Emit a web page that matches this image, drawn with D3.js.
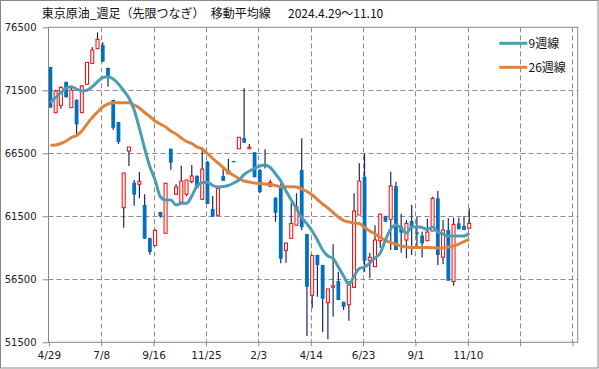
<!DOCTYPE html>
<html><head><meta charset="utf-8">
<script src="https://cdn.jsdelivr.net/npm/d3@7"></script>
<style>body{margin:0;background:#fff}svg{display:block}</style>
</head><body><svg id="c" width="599" height="369"></svg>
<script>
// ---- data ----
const tickLabels = ["4/29","7/8","9/16","11/25","2/3","4/14","6/23","9/1","11/10"];
const yTicks = [51500,56500,61500,66500,71500,76500];
const open  = [73350,69720,70310,72160,70120,70730,69720,71980,73640,74800,
               75100,73270,70730,68980,62180,66680,64170,64040,62400,59780,
               59170,61840,60150,66860,63250,62630,63250,64250,64700,62850,
               65830,62080,61580,64700,64880,65890,66860,67710,66860,66580,
               65170,65650,63900,62980,63850,58800,59750,60790,65170,60090,
               55230,58430,57630,54640,55870,56360,54720,54480,55860,61600,
               64640,57980,57500,59560,61520,61260,63900,60700,59620,61130,
               60230,59970,59560,60330,62930,58250,60410,56310,60940,60730,
               60550];
const high  = [73350,71550,71800,72200,71800,70800,71900,73720,74910,76100,
               75310,73300,70750,69000,64940,67000,64380,65020,63250,59800,
               60450,61860,64120,66880,64040,65520,64400,65570,64750,66980,
               65900,63110,63720,65490,66070,65890,67770,71660,67240,66600,
               65250,66820,64400,63000,64100,59380,62580,63330,67690,60100,
               58400,58450,57650,55730,59280,57100,54720,56310,63330,65710,
               66500,58600,60790,61700,61550,65040,64250,61700,61200,62400,
               61470,60300,61310,63060,63510,61210,61340,61390,61390,61520,
               62130];
const low   = [70120,69700,70040,70940,70100,67950,69700,71950,73600,74780,
               73750,71790,68350,67240,60590,65490,62340,62930,59700,58450,
               59150,61390,60150,65200,63200,62600,63100,64120,63700,62800,
               62480,61470,61580,64320,64880,65790,66860,67340,66860,64600,
               63320,65300,63800,61070,57770,57820,59750,60790,60410,52000,
               54200,55120,52320,51740,53530,54860,54060,53210,55860,61600,
               57100,56580,57500,59000,61070,58830,58830,58600,58170,58430,
               59100,58250,59560,60330,57630,57700,56390,55990,60470,60410,
               60550];
const close = [70120,71440,71740,70940,71520,68800,71840,73720,74700,75550,
               73770,72580,68530,67400,64940,67000,63210,64280,59720,58670,
               60390,61500,64120,65750,63830,64300,64380,64700,63770,65250,
               62480,61470,63720,64320,65100,65790,67770,67340,66980,64600,
               63430,65450,64200,61780,58130,59380,60940,62260,60630,55910,
               58400,57630,54960,55730,55990,54860,54320,56310,61920,64300,
               57980,58250,59620,61680,61070,63900,58830,60200,60940,60600,
               60070,59360,60250,62930,58430,60410,56390,60860,60470,60410,
               60940];
const ma9   = [70516,70913,71309,71658,71785,71600,71444,71500,71785,72183,
               72500,72579,72397,72000,71468,70888,69936,68484,66896,65436,
               64380,63055,62793,62793,62396,62531,62531,63110,63904,64158,
               64198,63944,63824,63864,63944,64142,64380,64817,65095,65293,
               65491,65571,65373,64856,64300,63500,62800,62100,61400,60900,
               60333,59618,58825,58348,58150,57475,56761,56086,56761,57356,
               57475,57793,58190,58586,59618,60491,60809,60570,60173,60650,
               60674,60610,60452,60650,60253,60094,59935,59935,59935,59935,
               60173];
const ma26  = [67134,67158,67277,67476,67753,67912,68270,68825,69341,69777,
               70174,70412,70516,70516,70516,70516,70333,70095,69738,69420,
               69063,68825,68587,68270,68031,67714,67436,67277,67000,66841,
               66484,66087,65730,65373,65015,64738,64500,64301,64222,64142,
               64102,64063,64023,63944,63851,63851,63851,63825,63666,63467,
               63190,62833,62475,62158,61801,61443,61166,61047,60968,60928,
               60610,60332,60094,59816,59578,59419,59260,59142,59062,59023,
               59023,59023,59023,59007,58983,58983,59062,59142,59300,59499,
               59657];
const seriesNames = ["9週線","26週線"];

// ---- layout ----
const svg = d3.select("#c");
const L = 48.5, R = 577.7, T = 27.3, B = 342.3;
const x = d3.scaleLinear().domain([0, 101]).range([48.9, R]);
const y = d3.scaleLinear().domain([51500, 76500]).range([B, T]);
const off = 1.5;
const cx = i => x(i) + off;
const gridCol = "#8c8c8c", axisCol = "#868686";
const teal = "#4a9db5", orange = "#e0833a";

svg.append("rect").attr("x",0.5).attr("y",0.5).attr("width",597.5).attr("height",367.5)
  .attr("fill","#fff").attr("stroke",axisCol).attr("stroke-width",1);

// grid
const xt = d3.range(0, 101, 10);
svg.append("g").selectAll("line").data(xt.filter(d=>d>0)).join("line")
  .attr("x1",d=>Math.round(x(d))+0.5).attr("x2",d=>Math.round(x(d))+0.5)
  .attr("y1",T).attr("y2",B)
  .attr("stroke",gridCol).attr("stroke-width",1).attr("stroke-dasharray","5,3");
svg.append("g").selectAll("line").data(yTicks.slice(1,-1)).join("line")
  .attr("x1",L).attr("x2",R)
  .attr("y1",d=>Math.round(y(d))+0.5).attr("y2",d=>Math.round(y(d))+0.5)
  .attr("stroke",gridCol).attr("stroke-width",1).attr("stroke-dasharray","5,3");

// candles
const idx = d3.range(open.length);
svg.append("g").selectAll("line").data(idx).join("line")
  .attr("x1",i=>cx(i)).attr("x2",i=>cx(i))
  .attr("y1",i=>y(high[i])).attr("y2",i=>y(low[i]))
  .attr("stroke","#1b2a5e").attr("stroke-width",1.2);
svg.append("g").selectAll("rect").data(idx).join("rect")
  .attr("x",i=> close[i]>=open[i] ? cx(i)-1.5 : cx(i)-1.9)
  .attr("width",i=> close[i]>=open[i] ? 3 : 3.8)
  .attr("y",i=>y(Math.max(open[i],close[i])))
  .attr("height",i=>Math.max(1, Math.abs(y(open[i])-y(close[i]))))
  .attr("fill",i=> close[i]>=open[i] ? "#fff" : "#0070c0")
  .attr("stroke",i=> close[i]>=open[i] ? "#ff0000" : "none")
  .attr("stroke-width",1);

// moving averages
const line = d3.line().x((d,i)=>cx(i)).y(d=>y(d)).curve(d3.curveMonotoneX);
svg.append("path").datum(ma26).attr("d",line).attr("fill","none")
  .attr("stroke",orange).attr("stroke-width",3).attr("stroke-linejoin","round");
svg.append("path").datum(ma9).attr("d",line).attr("fill","none")
  .attr("stroke",teal).attr("stroke-width",3).attr("stroke-linejoin","round");

// plot border
svg.append("rect").attr("x",L).attr("y",T).attr("width",R-L).attr("height",B-T)
  .attr("fill","none").attr("stroke",axisCol).attr("stroke-width",1);

// y axis
const yAxis = d3.axisLeft(y).tickValues(yTicks).tickSize(6).tickPadding(6).tickFormat(d3.format("d"));
const gy = svg.append("g").attr("transform",`translate(${L},0)`).call(yAxis);
gy.select(".domain").remove();
gy.selectAll("line").attr("stroke",axisCol);
gy.selectAll("text").attr("font-family","DejaVu Sans").attr("font-size","10px").attr("fill","#222");

// x axis
const xAxis = d3.axisBottom(x).tickValues(xt).tickSize(4).tickPadding(5)
  .tickFormat((d,i)=>tickLabels[i] || "");
const gx = svg.append("g").attr("transform",`translate(0,${B})`).call(xAxis);
gx.select(".domain").remove();
gx.selectAll("line").attr("stroke",axisCol);
gx.selectAll("text").attr("font-family","DejaVu Sans").attr("font-size","10.5px").attr("fill","#222");

// title
const tf = "'Noto Sans CJK JP', sans-serif";
svg.append("text").attr("x",41.7).attr("y",18).attr("font-family",tf).attr("font-size","12px")
  .attr("fill","#111").text("東京原油_週足（先限つなぎ）");
svg.append("text").attr("x",210.7).attr("y",18).attr("font-family",tf).attr("font-size","12px")
  .attr("fill","#111").text("移動平均線");
svg.append("text").attr("x",288).attr("y",18).attr("font-family",tf).attr("font-size","12px")
  .attr("fill","#111").text("2024.4.29～11.10");

// legend
const lg = svg.append("g");
[[teal,43.3],[orange,67.3]].forEach(([c,yy],k)=>{
  lg.append("line").attr("x1",499.3).attr("x2",527.3).attr("y1",yy).attr("y2",yy)
    .attr("stroke",c).attr("stroke-width",3);
  lg.append("text").attr("x",528.5).attr("y",yy+4.3).attr("font-family",tf).attr("font-size","12px")
    .attr("fill","#111").text(seriesNames[k]);
});
</script></body></html>
